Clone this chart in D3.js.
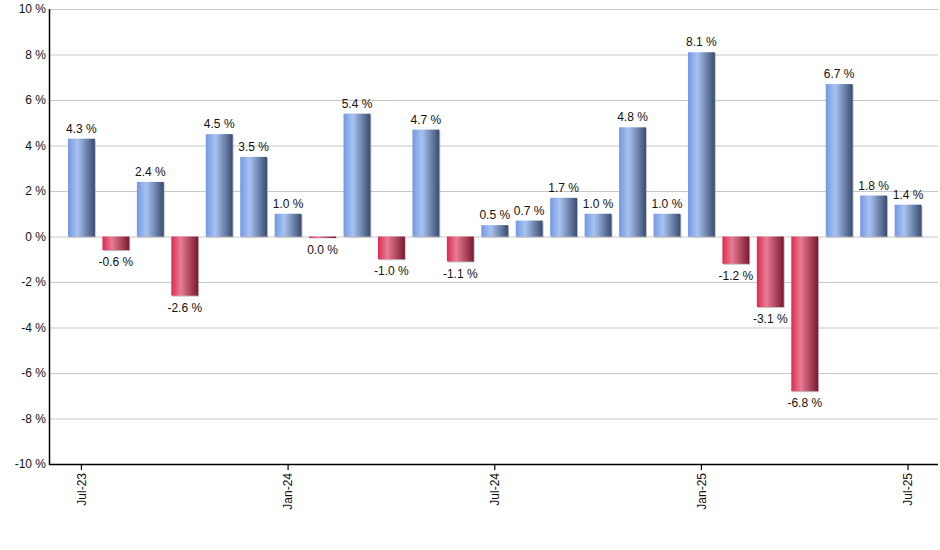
<!DOCTYPE html>
<html><head><meta charset="utf-8">
<script src="https://cdn.jsdelivr.net/npm/d3@7"></script>
<style>body{margin:0;background:#fff}svg{display:block;font-family:Arial,"Liberation Sans",sans-serif}</style>
</head><body>
<svg id="c" width="940" height="550"></svg>
<script>
const months = ["Jul-23","Aug-23","Sep-23","Oct-23","Nov-23","Dec-23","Jan-24","Feb-24","Mar-24","Apr-24","May-24","Jun-24","Jul-24","Aug-24","Sep-24","Oct-24","Nov-24","Dec-24","Jan-25","Feb-25","Mar-25","Apr-25","May-25","Jun-25","Jul-25"];
const returns = [4.3,-0.6,2.4,-2.6,4.5,3.5,1.0,-0.04,5.4,-1.0,4.7,-1.1,0.5,0.7,1.7,1.0,4.8,1.0,8.1,-1.2,-3.1,-6.8,6.7,1.8,1.4];
const yTicks = [-10,-8,-6,-4,-2,0,2,4,6,8,10];
const xTickLabels = ["Jul-23","Jan-24","Jul-24","Jan-25","Jul-25"];

(function(){
const svg = d3.select("#c");
const pL = 50, pR = 938, pT = 9, pB = 464;
const x = d3.scaleBand().domain(months).range([68, 921.5]).paddingInner(0.22).paddingOuter(0);
const y = d3.scaleLinear().domain([-10, 10]).range([pB, pT]);

const defs = svg.append("defs");
function grad(id, c0, c1, c2) {
  const g = defs.append("linearGradient").attr("id", id).attr("x1", "0").attr("x2", "1").attr("y1", "0").attr("y2", "0");
  g.append("stop").attr("offset", "0").attr("stop-color", c0);
  g.append("stop").attr("offset", "0.35").attr("stop-color", c1);
  g.append("stop").attr("offset", "1").attr("stop-color", c2);
}
grad("gBlue", "#7397e2", "#a9c3f1", "#394c70");
grad("gRed", "#dc2a52", "#e87c93", "#7a1830");

svg.append("g").selectAll("line").data(yTicks).join("line")
  .attr("x1", pL).attr("x2", pR)
  .attr("y1", d => y(d) + 0.5).attr("y2", d => y(d) + 0.5)
  .attr("stroke", "#c8c8c8").attr("stroke-width", 1);

svg.append("g").selectAll("text").data(yTicks).join("text")
  .attr("x", 46).attr("y", d => y(d)).attr("dy", "0.35em")
  .attr("text-anchor", "end").attr("font-size", 12).attr("fill", "#111")
  .text(d => d + " %");

const bars = svg.append("g");
bars.selectAll("rect.sh").data(returns).join("rect").attr("class", "sh")
  .attr("x", (d, i) => x(months[i]) + 1)
  .attr("y", d => Math.min(y(d), y(0)) + 1)
  .attr("width", x.bandwidth())
  .attr("height", d => Math.abs(y(d) - y(0)))
  .attr("fill", "#9a9a9a").attr("opacity", 0.6);
bars.selectAll("rect.b").data(returns).join("rect").attr("class", "b")
  .attr("x", (d, i) => x(months[i]))
  .attr("y", d => Math.min(y(d), y(0)))
  .attr("width", x.bandwidth())
  .attr("height", d => Math.max(1.5, Math.abs(y(d) - y(0))))
  .attr("fill", d => d >= 0 ? "url(#gBlue)" : "url(#gRed)");

const fmt = d3.format(".1f");
svg.append("g").selectAll("text").data(returns).join("text")
  .attr("x", (d, i) => x(months[i]) + x.bandwidth() / 2)
  .attr("y", d => d >= 0 ? y(d) - 6 : Math.max(y(d), y(0) + 1) + 16)
  .attr("text-anchor", "middle").attr("font-size", 12).attr("fill", "#111")
  .text(d => (Math.abs(d) < 0.05 ? "0.0" : fmt(d).replace("−", "-")) + " %");

svg.append("line").attr("x1", pL - 0.5).attr("x2", pL - 0.5).attr("y1", pT).attr("y2", pB + 1)
  .attr("stroke", "#000").attr("stroke-width", 1.5);
svg.append("line").attr("x1", pL - 1).attr("x2", pR).attr("y1", pB + 0.5).attr("y2", pB + 0.5)
  .attr("stroke", "#000").attr("stroke-width", 1.5);

const xt = svg.append("g").selectAll("g").data(xTickLabels).join("g")
  .attr("transform", d => `translate(${x(d) + x.bandwidth() / 2},${pB})`);
xt.append("line").attr("y1", 0).attr("y2", 6).attr("stroke", "#000").attr("stroke-width", 1.2);
xt.append("text").attr("transform", "rotate(-90)").attr("x", -9).attr("y", 0).attr("dy", "0.35em")
  .attr("text-anchor", "end").attr("font-size", 12).attr("fill", "#111").text(d => d);
})();
</script>
</body></html>
